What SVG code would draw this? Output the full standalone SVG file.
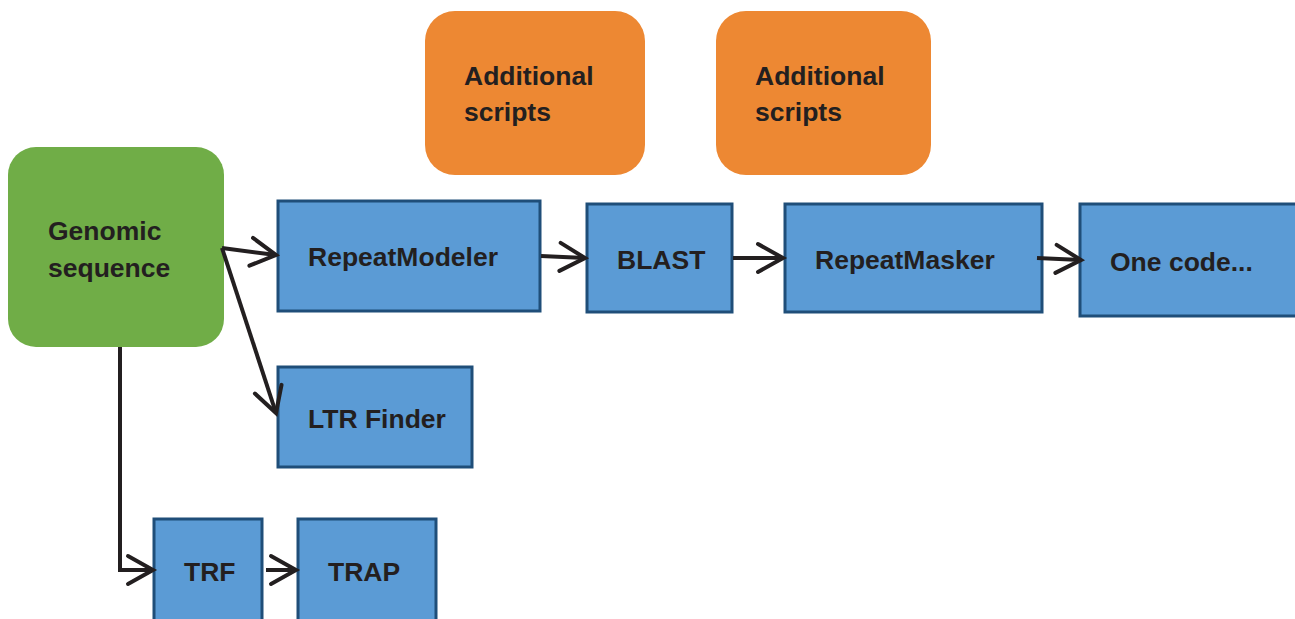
<svg xmlns="http://www.w3.org/2000/svg" width="1295" height="619" viewBox="0 0 1295 619">
<style>
.t{font-family:"Liberation Sans",Arial,sans-serif;font-weight:bold;font-size:26.5px;fill:#231f20}
.b{fill:#5b9bd5;stroke:#1f4e79;stroke-width:3}
.c{fill:none;stroke:#231f20;stroke-width:4}
</style>
<defs>
<marker id="a" markerWidth="14" markerHeight="14" refX="12" refY="7" orient="auto" markerUnits="userSpaceOnUse" viewBox="0 0 14 14" overflow="visible">
<path d="M-13,-7 L12,7 L-13,21" fill="none" stroke="#231f20" stroke-width="4" stroke-linecap="round" stroke-linejoin="miter"/>
</marker>
</defs>
<rect width="1295" height="619" fill="#fff"/>
<g id="genomic"><rect x="8" y="147" width="216" height="200" rx="28" fill="#70ad47"/><text class="t" x="48" y="240">Genomic</text><text class="t" x="48" y="277">sequence</text></g>
<g id="add1"><rect x="425" y="11" width="220" height="164" rx="30" fill="#ed8833"/><text class="t" x="464" y="85">Additional</text><text class="t" x="464" y="121">scripts</text></g>
<g id="add2"><rect x="716" y="11" width="215" height="164" rx="30" fill="#ed8833"/><text class="t" x="755" y="85">Additional</text><text class="t" x="755" y="121">scripts</text></g>
<g id="repeatmodeler"><rect class="b" x="278" y="201" width="262" height="110"/><text class="t" x="308" y="266">RepeatModeler</text></g>
<g id="blast"><rect class="b" x="587" y="204" width="145" height="108"/><text class="t" x="617" y="269">BLAST</text></g>
<g id="repeatmasker"><rect class="b" x="785" y="204" width="257" height="108"/><text class="t" x="815" y="269">RepeatMasker</text></g>
<g id="onecode"><rect class="b" x="1080" y="204" width="220" height="112"/><text class="t" x="1110" y="271">One code...</text></g>
<g id="ltrfinder"><rect class="b" x="278" y="367" width="194" height="100"/><text class="t" x="308" y="428">LTR Finder</text></g>
<g id="trf"><rect class="b" x="154" y="519" width="108" height="110"/><text class="t" x="184" y="581">TRF</text></g>
<g id="trap"><rect class="b" x="298" y="519" width="138" height="110"/><text class="t" x="328" y="581">TRAP</text></g>
<g id="connectors">
<path class="c" d="M222,248 L276,255" marker-end="url(#a)"/>
<path class="c" d="M222,248 L276,413" marker-end="url(#a)"/>
<path class="c" d="M541,256 L585,258" marker-end="url(#a)"/>
<path class="c" d="M733,258 L783,258" marker-end="url(#a)"/>
<path class="c" d="M1037,258 L1081,260" marker-end="url(#a)"/>
<path class="c" d="M120,347 L120,570 L153,570" marker-end="url(#a)"/>
<path class="c" d="M266,570 L296,570" marker-end="url(#a)"/>
</g>
</svg>
